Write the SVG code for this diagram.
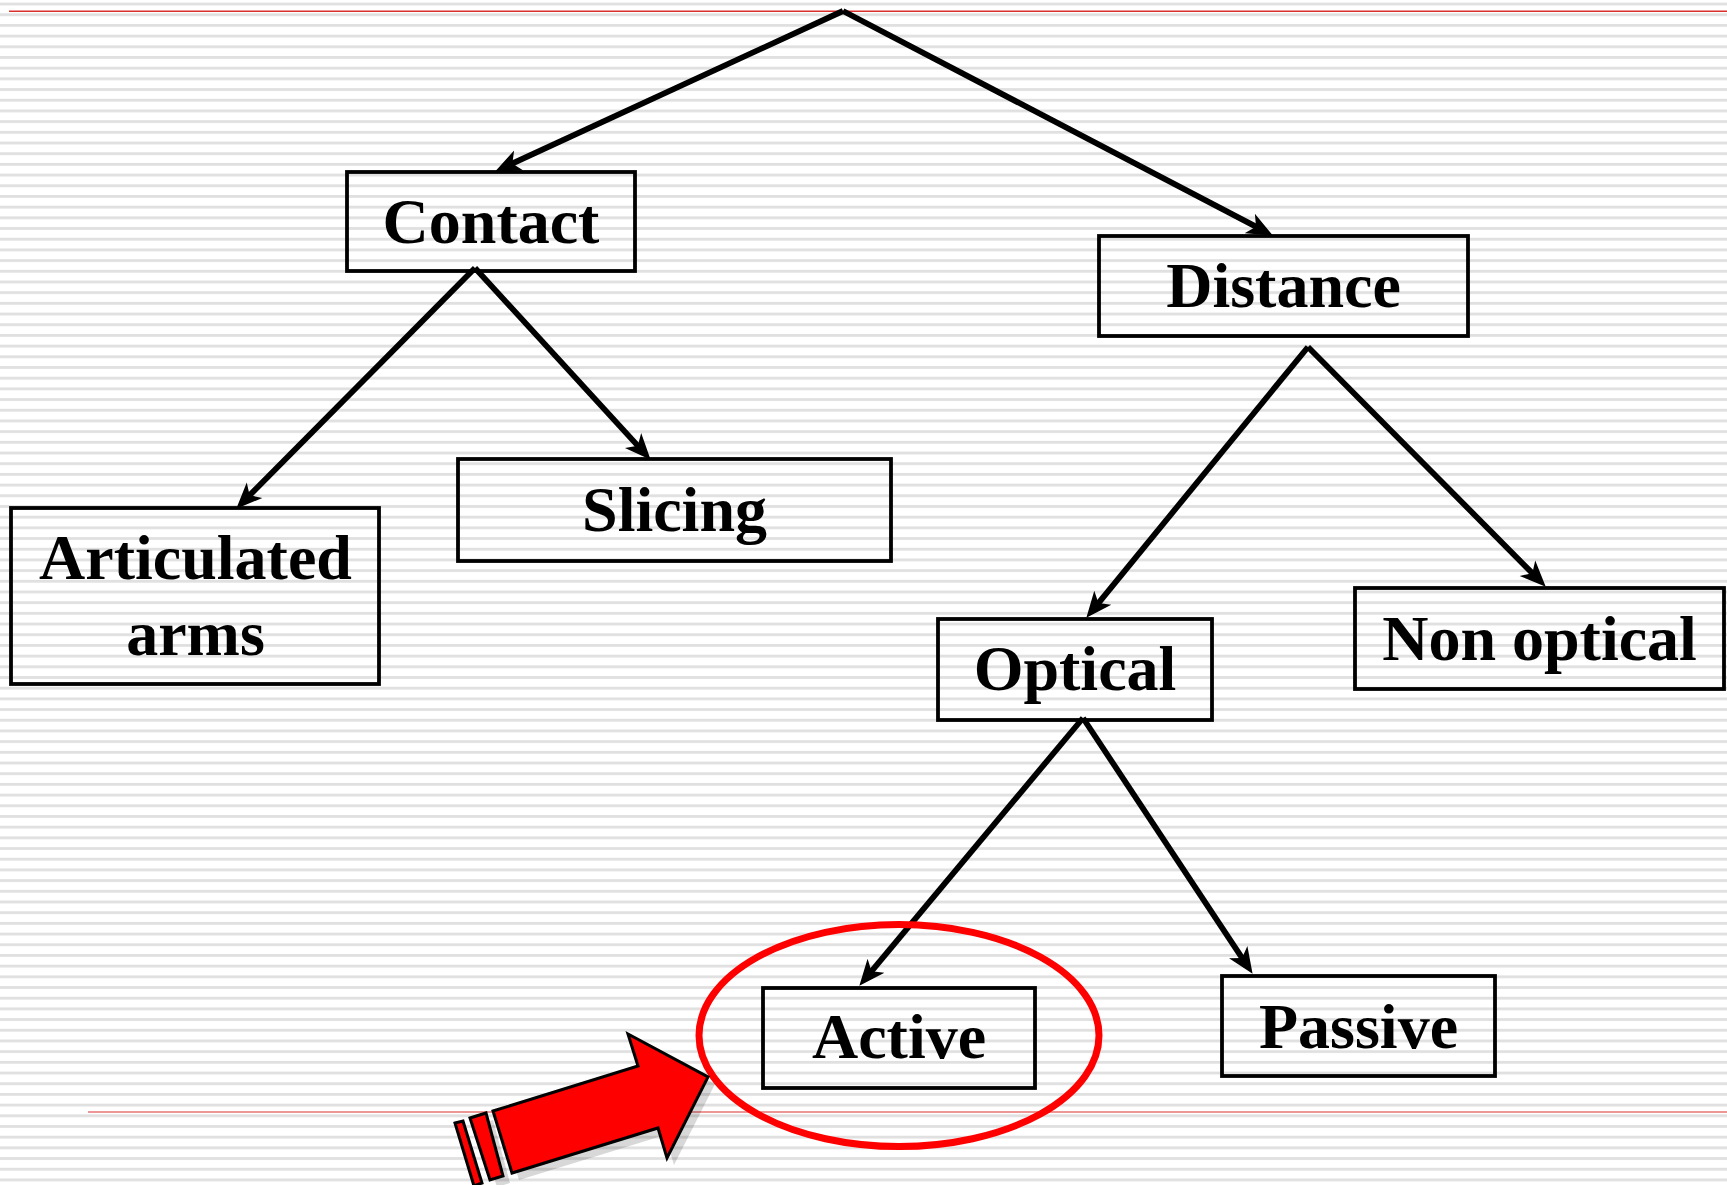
<svg xmlns="http://www.w3.org/2000/svg" width="1727" height="1185" viewBox="0 0 1727 1185">
<defs>
<pattern id="stripes" patternUnits="userSpaceOnUse" x="0" y="2.6" width="40" height="10.69">
<rect x="0" y="0" width="40" height="2.8" fill="#e0e0e0"/>
</pattern>
<marker id="ah" markerUnits="userSpaceOnUse" viewBox="0 -12 26 24" refX="15" refY="0" markerWidth="26" markerHeight="24" orient="auto">
<path d="M0,-11 L26,0 L0,11 L7,0 Z" fill="#000"/>
</marker>
</defs>
<style>
.box{fill:none;stroke:#000;stroke-width:3.8}
.lbl{font-family:"Liberation Serif","Times New Roman",serif;font-weight:bold;font-size:64px;fill:#000;text-anchor:middle}
.conn{fill:none;stroke:#000;stroke-width:5.8;marker-end:url(#ah)}
.rule{stroke:#d9302c;stroke-width:1.5}
</style>
<rect x="0" y="0" width="1727" height="1185" fill="#fff"/>
<rect x="0" y="0" width="1727" height="1185" fill="url(#stripes)"/>
<line class="rule" x1="9" y1="11.3" x2="1727" y2="11.3"/>
<line class="rule" x1="88" y1="1112" x2="1727" y2="1112" style="stroke-width:1.2"/>

<g id="connectors">
<path class="conn" d="M843,11 L505.1,166.8"/>
<path class="conn" d="M843,11 L1263.1,230.4"/>
<path class="conn" d="M475,268 L244,500.9"/>
<path class="conn" d="M475,268 L643.2,451.6"/>
<path class="conn" d="M1308,347 L1093.3,609.3"/>
<path class="conn" d="M1308,347 L1538,578.9"/>
<path class="conn" d="M1083,718 L866.4,977.3"/>
<path class="conn" d="M1083,718 L1246.5,964.7"/>
</g>

<g id="contact">
<rect class="box" x="347" y="172" width="288" height="99"/>
<text class="lbl" x="491" y="243">Contact</text>
</g>
<g id="distance">
<rect class="box" x="1099" y="236" width="369" height="100"/>
<text class="lbl" x="1283.5" y="307">Distance</text>
</g>
<g id="articulated">
<rect class="box" x="11" y="508" width="368" height="176"/>
<text class="lbl" x="195.5" y="579">Articulated</text>
<text class="lbl" x="195.5" y="655">arms</text>
</g>
<g id="slicing">
<rect class="box" x="458" y="459" width="433" height="102"/>
<text class="lbl" x="674.5" y="531">Slicing</text>
</g>
<g id="optical">
<rect class="box" x="938" y="619" width="274" height="101"/>
<text class="lbl" x="1075" y="690">Optical</text>
</g>
<g id="nonoptical">
<rect class="box" x="1355" y="588" width="369" height="101"/>
<text class="lbl" x="1539.5" y="660">Non optical</text>
</g>
<g id="active">
<rect class="box" x="763" y="988" width="272" height="100"/>
<text class="lbl" x="899" y="1058">Active</text>
</g>
<g id="passive">
<rect class="box" x="1222" y="976" width="273" height="100"/>
<text class="lbl" x="1358.5" y="1048">Passive</text>
</g>

<g id="highlight">
<ellipse cx="899" cy="1035.5" rx="200" ry="111" fill="none" stroke="#ff0000" stroke-width="7"/>
</g>

<g id="pointer">
<g transform="translate(7,7)" fill="#000" opacity="0.15">
<polygon points="493,1111 638,1066 628,1034 708,1077 667,1158 658,1128 512,1173"/>
<polygon points="470,1118 486,1113 503,1176 490,1180"/>
</g>
<g fill="#ff0000" stroke="#000" stroke-width="3" stroke-linejoin="miter">
<polygon points="493,1111 638,1066 628,1034 708,1077 667,1158 658,1128 512,1173"/>
<polygon points="470,1118 486,1113 503,1176 490,1180"/>
<polygon points="455,1123 463,1121 482,1183 474,1186"/>
</g>
</g>
</svg>
